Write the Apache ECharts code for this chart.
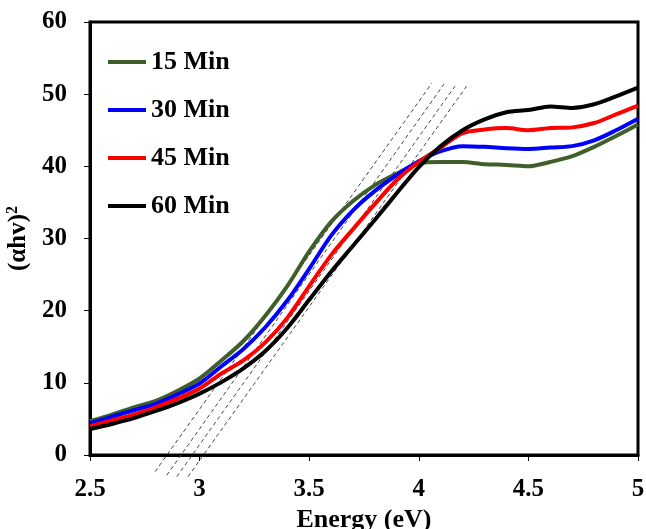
<!DOCTYPE html>
<html><head><meta charset="utf-8">
<script src="https://cdn.jsdelivr.net/npm/echarts@6/dist/echarts.min.js"></script>
<style>html,body{margin:0;padding:0;background:#fff}#c{width:646px;height:529px}</style>
</head><body><div id="c"></div>
<script>
const energy = [2.5,2.6,2.7,2.8,2.9,3.0,3.1,3.2,3.3,3.4,3.5,3.6,3.7,3.8,3.9,4.0,4.1,4.2,4.3,4.4,4.5,4.6,4.7,4.8,4.9,5.0];
const min15 = [4.7,5.6,6.6,7.5,8.9,10.6,13.1,15.8,19.3,23.4,28.2,32.3,35.2,37.4,39.0,40.4,40.6,40.6,40.3,40.2,40.0,40.6,41.4,42.7,44.2,45.8];
const min30 = [4.4,5.3,6.2,7.1,8.4,9.9,12.3,14.7,17.7,21.4,25.8,30.4,33.9,36.6,38.8,40.7,42.1,42.8,42.7,42.5,42.4,42.6,42.8,43.6,45.0,46.6];
const min45 = [4.0,4.8,5.6,6.6,7.8,9.2,11.3,13.1,15.6,19.0,23.4,27.7,31.3,34.8,38.1,40.6,42.6,44.6,45.1,45.3,45.0,45.3,45.4,46.0,47.2,48.4];
const min60 = [3.6,4.3,5.1,6.1,7.2,8.5,10.1,12.0,14.4,17.6,21.5,25.4,29.0,32.6,36.3,39.9,42.8,45.0,46.5,47.5,47.8,48.3,48.1,48.6,49.7,50.9];
const seriesNames = ['15 Min','30 Min','45 Min','60 Min'];
const seriesColors = ['#3F5F2A','#0000FF','#FF0000','#000000'];
// tangent (Tauc extrapolation) lines: start/end points
const tanStartX = [2.797, 2.850, 2.896, 2.947];
const tanStartY = [-2.3, -2.8, -3.0, -3.0];
const tanEndX = [4.059, 4.115, 4.165, 4.218];
const tanEndY = [51.5, 51.4, 51.1, 51.1];

const font = 'Liberation Serif, Times New Roman, serif';
const allY = [min15, min30, min45, min60];
const series = [];
tanStartX.forEach((x0,i)=>{
  series.push({type:'line', silent:true, clip:false, symbol:'none', z:1,
    data:[[x0,tanStartY[i]],[tanEndX[i],tanEndY[i]]],
    lineStyle:{color:'#444', width:1, type:[4,3]}});
});
seriesNames.forEach((n,i)=>{
  series.push({name:n, type:'line', symbol:'none', smooth:0.3, z:3,
    data: energy.map((e,j)=>[e, allY[i][j]]),
    lineStyle:{color:seriesColors[i], width:4}, itemStyle:{color:seriesColors[i]}});
});
const chart = echarts.init(document.getElementById('c'));
chart.setOption({
  animation:false,
  grid:{left:90, right:8, top:22, bottom:74, show:true, borderColor:'#000', borderWidth:3,
    containLabel:false, outerBoundsMode:'none'},
  legend:{orient:'vertical', left:103, top:44, icon:'rect', itemWidth:38, itemHeight:4, itemGap:22,
    data:seriesNames, textStyle:{fontFamily:font, fontWeight:'bold', fontSize:26, color:'#000'}},
  xAxis:{type:'value', min:2.5, max:5, interval:0.5,
    name:'Energy (eV)', nameLocation:'middle', nameGap:50,
    nameTextStyle:{fontFamily:font, fontWeight:'bold', fontSize:26, color:'#000'},
    axisLine:{lineStyle:{color:'#000', width:3}},
    axisTick:{show:true, inside:false, length:6, lineStyle:{color:'#000', width:1}},
    axisLabel:{margin:22, fontFamily:font, fontWeight:'bold', fontSize:25, color:'#000',
      formatter:v=>String(v)},
    splitLine:{show:false}},
  yAxis:{type:'value', min:0, max:60, interval:10,
    name:'{b|(αhv)}{s|2}', nameLocation:'middle', nameGap:50,
    nameTextStyle:{fontFamily:font, fontWeight:'bold', fontSize:25, color:'#000',
      rich:{b:{fontFamily:font, fontWeight:'bold', fontSize:25, color:'#000'},
            s:{fontFamily:font, fontWeight:'bold', fontSize:16, color:'#000', verticalAlign:'top', padding:[0,0,12,0]}}},
    axisLine:{lineStyle:{color:'#000', width:3}},
    axisTick:{show:true, inside:false, length:6, lineStyle:{color:'#000', width:1}},
    axisLabel:{margin:23, fontFamily:font, fontWeight:'bold', fontSize:25, color:'#000'},
    splitLine:{show:false}},
  series
});
</script></body></html>
